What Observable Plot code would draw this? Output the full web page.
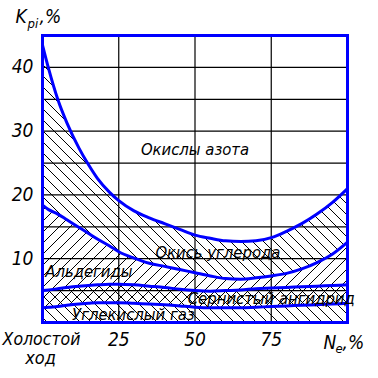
<!DOCTYPE html>
<html><head><meta charset="utf-8">
<script src="https://cdn.jsdelivr.net/npm/d3@7"></script>
<script src="https://cdn.jsdelivr.net/npm/@observablehq/plot@0.6"></script>
<style>
body{margin:0;background:#fff;}
#chart svg{font-family:"Liberation Sans Narrow","DejaVu Sans Condensed","Arial Narrow",sans-serif;}
</style>
</head><body><div id="chart"></div>
<script>
// Load, % (Ne)
const load = [0,2,5,8,12,15,18,22,25,30,35,40,45,50,55,60,65,70,75,80,85,90,95,100];
// Upper boundary of each component (cumulative), Kpi %
const nitrogenOxides = [43.5,39.8,35,31.3,27.3,24.8,22.6,20.4,19.1,17.5,16.4,15.5,14.6,13.7,13.2,12.8,12.7,12.8,13.3,14.3,15.5,17,18.8,21];
const carbonMonoxide = [18.4,17.7,17.0,16.1,14.9,14.0,13.1,12.0,11.1,10.1,9.3,8.8,8.3,7.8,7.3,6.9,6.8,7.0,7.3,7.7,8.4,9.4,10.7,12.6];
const aldehydes = [5.0,5.1,5.3,5.5,5.7,5.8,5.9,6.0,6.0,5.9,5.7,5.5,5.2,5.0,4.9,5.0,5.1,5.3,5.4,5.5,5.6,5.7,5.8,5.9];
const sulfurDioxide = [2.3,2.4,2.5,2.7,2.9,3.0,3.1,3.1,3.1,3.0,2.9,2.8,2.6,2.4,2.3,2.3,2.3,2.4,2.5,2.6,2.7,2.8,2.9,3.0];
const yTicks = [10,20,30,40];
const yGrid = [5,10,15,20,25,30,35,40];
const xTicks = [25,50,75];
const areaLabels = ["Окислы азота","Окись углерода","Альдегиды","Сернистый ангидрид","Углекислый газ"];
const areaLabelX = [50,57.5,15.2,75,29.8];
const areaLabelY = [27.1,11.0,7.9,3.7,1.25];

const rows = load.map((x,i)=>({x, n:nitrogenOxides[i], co:carbonMonoxide[i], al:aldehydes[i], so:sulfurDioxide[i], z:0}));
const labels = areaLabels.map((t,i)=>({t, x:areaLabelX[i], y:areaLabelY[i]}));
const crv = "monotone-x";
const blue = "#0000ff";
const fontItal = {fontStyle:"italic", fontSize:16.5, fill:"black"};

const plot = Plot.plot({
  width:378, height:378,
  marginLeft:42, marginRight:31, marginTop:35, marginBottom:56,
  x:{domain:[0,100], axis:null},
  y:{domain:[0,45], axis:null},
  marks:[
    Plot.areaY(rows,{x:"x", y1:"co", y2:"n", fill:"url(#hBack)", curve:crv}),
    Plot.areaY(rows,{x:"x", y1:"al", y2:"co", fill:"url(#hFwd)", curve:crv}),
    Plot.areaY(rows,{x:"x", y1:"so", y2:"al", fill:"url(#hCross)", curve:crv}),
    Plot.areaY(rows,{x:"x", y1:"z", y2:"so", fill:"url(#hBack)", curve:crv}),
    Plot.ruleY(yGrid,{stroke:"black", strokeWidth:1.2}),
    Plot.ruleX(xTicks,{stroke:"black", strokeWidth:1.2}),
    Plot.lineY(rows,{x:"x", y:"n", stroke:blue, strokeWidth:3, curve:crv}),
    Plot.lineY(rows,{x:"x", y:"co", stroke:blue, strokeWidth:3, curve:crv}),
    Plot.lineY(rows,{x:"x", y:"al", stroke:blue, strokeWidth:3, curve:crv}),
    Plot.lineY(rows,{x:"x", y:"so", stroke:blue, strokeWidth:3, curve:crv}),
    Plot.frame({stroke:blue, strokeWidth:3}),
    Plot.text(yTicks,{x:0, y:d=>d, text:d=>String(d), textAnchor:"end", dx:-9, ...fontItal, fontSize:19}),
    Plot.text(xTicks,{x:d=>d, y:0, text:d=>String(d), dy:17, ...fontItal, fontSize:19}),
    Plot.text(["Холостой"],{x:0, y:0, text:d=>d, dx:-1, dy:17, ...fontItal, fontSize:17.5}),
    Plot.text(["ход"],{x:0, y:0, text:d=>d, dx:-2, dy:36, ...fontItal, fontSize:18}),
    Plot.text(labels,{x:"x", y:"y", text:"t", ...fontItal}),
    Plot.text(["K"],{x:0, y:45, text:d=>d, textAnchor:"start", dx:-27, dy:-19, ...fontItal, fontSize:19}),
    Plot.text(["pi"],{x:0, y:45, text:d=>d, textAnchor:"start", dx:-15, dy:-12, ...fontItal, fontSize:13}),
    Plot.text([",%"],{x:0, y:45, text:d=>d, textAnchor:"start", dx:-3, dy:-19, ...fontItal, fontSize:19}),
    Plot.text(["N"],{x:100, y:0, text:d=>d, textAnchor:"start", dx:-24, dy:20, ...fontItal, fontSize:19}),
    Plot.text(["e"],{x:100, y:0, text:d=>d, textAnchor:"start", dx:-12, dy:26, ...fontItal, fontSize:13}),
    Plot.text([",%"],{x:100, y:0, text:d=>d, textAnchor:"start", dx:-5, dy:20, ...fontItal, fontSize:19})
  ]
});

const ns = "http://www.w3.org/2000/svg";
const defs = document.createElementNS(ns,"defs");
function pat(id, d){
  const p = document.createElementNS(ns,"pattern");
  p.setAttribute("id",id); p.setAttribute("patternUnits","userSpaceOnUse");
  p.setAttribute("width","11"); p.setAttribute("height","11");
  const r = document.createElementNS(ns,"rect");
  r.setAttribute("width","11"); r.setAttribute("height","11"); r.setAttribute("fill","white");
  p.appendChild(r);
  const path = document.createElementNS(ns,"path");
  path.setAttribute("d",d); path.setAttribute("stroke","black"); path.setAttribute("stroke-width","1");
  path.setAttribute("fill","none");
  p.appendChild(path);
  defs.appendChild(p);
}
const back = "M0,0L11,11M-5.5,5.5L5.5,16.5M5.5,-5.5L16.5,5.5";
const fwd = "M0,11L11,0M-5.5,5.5L5.5,-5.5M5.5,16.5L16.5,5.5";
pat("hBack", back);
pat("hFwd", fwd);
pat("hCross", back + fwd);
plot.insertBefore(defs, plot.firstChild);
document.getElementById("chart").appendChild(plot);
</script></body></html>
